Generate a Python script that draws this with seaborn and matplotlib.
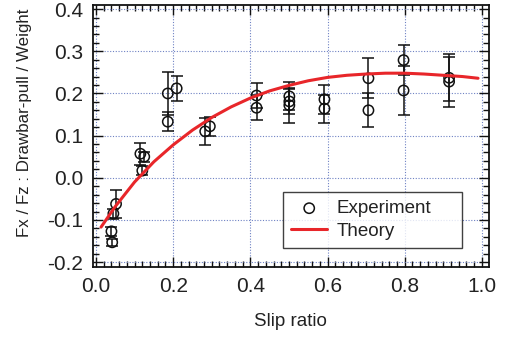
import numpy as np
import pandas as pd
import matplotlib
matplotlib.use("Agg")
import matplotlib.pyplot as plt
import seaborn as sns
from matplotlib.ticker import MultipleLocator

# ==========================================================
# DADOS
# ==========================================================

slip_exp = [0.052, 0.045, 0.040, 0.042,
            0.115, 0.125, 0.120,
            0.186, 0.186, 0.209,
            0.283, 0.295,
            0.416, 0.416,
            0.501, 0.501, 0.501,
            0.592, 0.592,
            0.706, 0.706,
            0.797, 0.797,
            0.915, 0.915]

fx_exp = [-0.062, -0.085, -0.127, -0.153,
          0.057, 0.050, 0.017,
          0.200, 0.133, 0.212,
          0.110, 0.122,
          0.195, 0.166,
          0.193, 0.181, 0.172,
          0.186, 0.164,
          0.236, 0.160,
          0.279, 0.207,
          0.237, 0.228]

err_exp = [0.033, 0.012, 0.010, 0.008,
           0.026, 0.012, 0.010,
           0.050, 0.022, 0.030,
           0.032, 0.022,
           0.030, 0.030,
           0.033, 0.030, 0.042,
           0.035, 0.033,
           0.047, 0.040,
           0.035, 0.057,
           0.056, 0.059]

slip_theory = [0.013, 0.05, 0.10, 0.15, 0.20, 0.25, 0.30, 0.35, 0.40, 0.45,
               0.50, 0.55, 0.60, 0.65, 0.70, 0.75, 0.80, 0.85, 0.90, 0.95, 0.99]
fx_theory = [-0.117, -0.068, -0.010, 0.038, 0.078, 0.113, 0.143, 0.168, 0.189,
             0.206, 0.219, 0.230, 0.238, 0.243, 0.246, 0.248, 0.248, 0.246,
             0.243, 0.240, 0.236]

df_exp = pd.DataFrame({"slip": slip_exp, "fx": fx_exp, "err": err_exp})
df_theory = pd.DataFrame({"slip": slip_theory, "fx": fx_theory})

# ==========================================================
# GRAFICO
# ==========================================================

sns.set_style("ticks")
plt.rcParams["font.family"] = ["Liberation Sans", "DejaVu Sans"]

fig, ax = plt.subplots(figsize=(5.05, 3.47), dpi=100)
fig.subplots_adjust(left=0.184, right=0.968, top=0.986, bottom=0.23)

ax.grid(True, which="major", color="#6f82c4", linestyle=(0, (1, 1.5)),
        linewidth=0.8)

ax.errorbar(df_exp["slip"], df_exp["fx"], yerr=df_exp["err"],
            fmt="none", ecolor="#111111", elinewidth=1.1,
            capsize=4, capthick=1.1, zorder=3)

sns.scatterplot(data=df_exp, x="slip", y="fx", marker="o", s=55,
                facecolor="none", edgecolor="#111111", linewidth=1.1,
                label="Experiment", ax=ax, zorder=4)

sns.lineplot(data=df_theory, x="slip", y="fx", color="#e8262a",
             linewidth=2.2, label="Theory", ax=ax, zorder=5)

ax.set_xlim(-0.008, 1.018)
ax.set_ylim(-0.212, 0.41)

ax.xaxis.set_minor_locator(MultipleLocator(0.02))
ax.yaxis.set_minor_locator(MultipleLocator(0.02))
ax.set_xticks(np.arange(0, 1.01, 0.2))
ax.set_xticklabels([f"{v:.1f}" for v in np.arange(0, 1.01, 0.2)])
ax.set_yticks(np.arange(-0.2, 0.41, 0.1))
ax.set_yticklabels([f"{v:.1f}" if abs(v) > 1e-9 else "0.0"
                    for v in np.arange(-0.2, 0.41, 0.1)])

ax.tick_params(which="both", direction="in", top=True, right=True,
               color="#111111", width=1.0)
ax.tick_params(which="major", length=7, labelsize=15, labelcolor="#222222",
               pad=7)
ax.tick_params(which="minor", length=4)

for lado in ax.spines.values():
    lado.set_color("#111111")
    lado.set_linewidth(1.3)

ax.set_xlabel("Slip ratio", fontsize=13.5, color="#222222", labelpad=12)
ax.set_ylabel("Fx / Fz : Drawbar-pull / Weight", fontsize=12.2,
              color="#222222")
ax.yaxis.set_label_coords(-0.155, 0.55)

leg = ax.legend(loc="lower left", bbox_to_anchor=(0.48, 0.072, 0.452, 0.22),
                mode="expand", fontsize=13.5, frameon=True, fancybox=False,
                borderpad=0.45, handlelength=1.9, handletextpad=0.5,
                labelspacing=0.3, borderaxespad=0)
leg.get_frame().set_edgecolor("#111111")
leg.get_frame().set_linewidth(1.0)
for t in leg.get_texts():
    t.set_color("#222222")

fig.savefig("out.png", dpi=100)
